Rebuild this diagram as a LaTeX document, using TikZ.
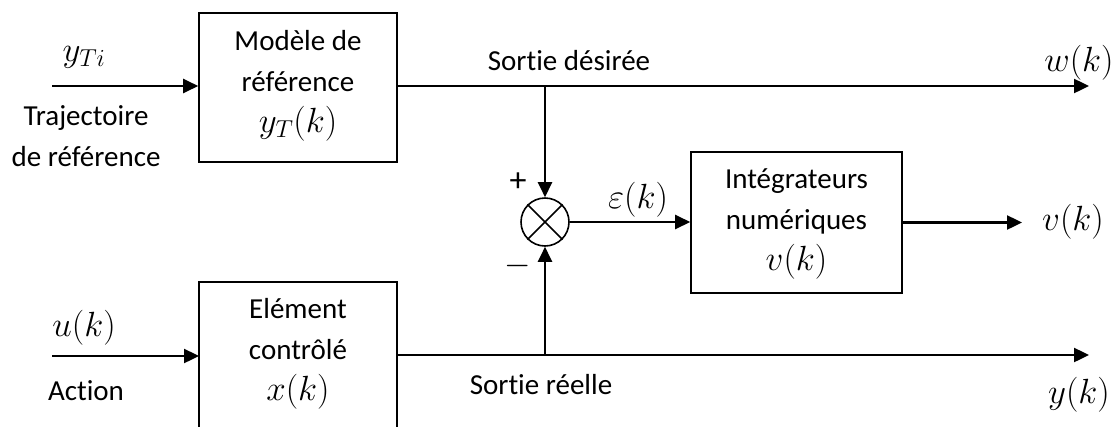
\documentclass[tikz,border=0pt]{standalone}
\usepackage{fix-cm}
\usepackage{fontspec}
\setmainfont{Carlito}[RawFeature={-liga,-clig,-calt,-dlig}]
\usetikzlibrary{arrows.meta}
\newcommand\mth[1]{{\fontsize{35}{41}\selectfont$#1$}}
\begin{document}
\begin{tikzpicture}[x=1pt,y=-1pt,
  font=\fontsize{29}{41}\selectfont,
  blk/.style={draw, line width=1.6pt, inner sep=0pt},
  sig/.style={line width=2.4pt, -{Triangle[length=15pt,width=14pt]}},
  lbl/.style={inner sep=0pt, align=center},
  sgn/.style={inner sep=0pt, font=\fontsize{34}{40}\selectfont}]
\useasboundingbox (0,0) rectangle (1119,426);
\clip (0,0) rectangle (1119,426);
% blocks
\node[blk, minimum width=198pt, minimum height=149pt] (ref) at (298,87.5) {};
\node[lbl] (reftxt) at (298,86) {Modèle de\\référence\\\mth{y_T(k)}};
\node[blk, minimum width=198pt, minimum height=160pt] (ctrl) at (298,362) {};
\node[lbl] (ctrltxt) at (298,354) {Elément\\contrôlé\\\mth{x(k)}};
\node[blk, minimum width=211pt, minimum height=141pt] (int) at (796.5,222.5) {};
\node[lbl] (inttxt) at (796.5,224) {Intégrateurs\\numériques\\\mth{v(k)}};
\node[draw, circle, line width=1.6pt, minimum size=48pt, inner sep=0pt] (sum) at (545,222) {};
\draw[line width=1.6pt] (sum.north west) -- (sum.south east) (sum.north east) -- (sum.south west);
% coordinates
\coordinate (inA) at (52,86);
\coordinate (inB) at (52,356);
\coordinate (inBe) at (199,356);
\coordinate (refo) at (397,86);
\coordinate (brA) at (545,86);
\coordinate (outW) at (1089,86);
\coordinate (ctrlo) at (397,355);
\coordinate (brB) at (545,355);
\coordinate (outY) at (1089,355);
\coordinate (outV) at (1022,222.5);
% connectors
\draw[sig] (inA) -- (inA -| ref.west);
\draw[sig] (inB) -- (inBe);
\draw[sig] (refo) -- (outW);
\draw[sig] (brA) -- (sum.north);
\draw[sig] (ctrlo) -- (outY);
\draw[sig] (brB) -- (sum.south);
\draw[sig] (sum.east) -- (sum.east -| int.west);
\draw[sig] (int.east |- outV) -- (outV);
% labels
\node[lbl] (yti) at (84,57) {\mth{y_{Ti}}};
\node[lbl] (traj) at (86,136) {Trajectoire\\de référence};
\node[lbl] (uk) at (84,328) {\mth{u(k)}};
\node[lbl] (act) at (86,391) {Action};
\node[lbl] (sdes) at (569,61) {Sortie désirée};
\node[lbl] (wk) at (1079,63) {\mth{w(k)}};
\node[lbl] (srel) at (541,385) {Sortie réelle};
\node[lbl] (yk) at (1079,395) {\mth{y(k)}};
\node[sgn] (plus) at (518,182) {+};
\node[sgn] (minus) at (518,266) {$-$};
\node[lbl] (eps) at (638,200) {\mth{\varepsilon(k)}};
\node[lbl] (vk) at (1073,222) {\mth{v(k)}};
\end{tikzpicture}
\end{document}
